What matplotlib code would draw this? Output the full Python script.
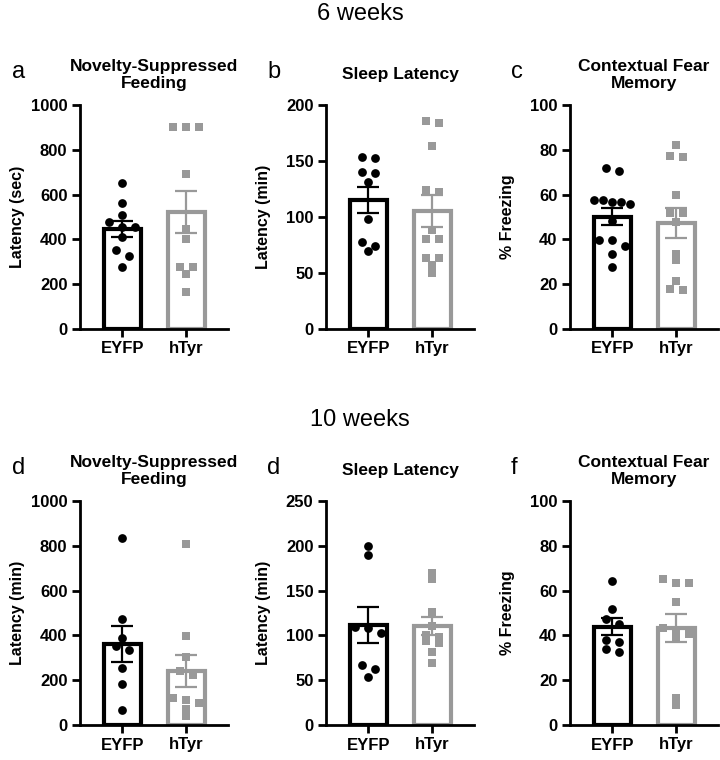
import numpy as np
import matplotlib
matplotlib.use('Agg')
import matplotlib.pyplot as plt

plt.rcParams['font.family'] = ['Liberation Sans', 'DejaVu Sans']

groups = ['EYFP', 'hTyr']

# 6 weeks
nsf6_eyfp = [654, 561, 509, 479, 457, 454, 412, 353, 328, 275]
nsf6_htyr = [900, 900, 900, 691, 448, 403, 277, 277, 246, 167]
sleep6_eyfp = [154, 153, 140, 139, 131, 98, 78, 74, 70]
sleep6_htyr = [186, 184, 163, 124, 122, 88, 80, 80, 63, 63, 57, 50]
fear6_eyfp = [72, 70.5, 57.8, 57.4, 56.5, 56.5, 55.6, 48, 39.7, 39.7, 37.2, 33.3, 27.5]
fear6_htyr = [82, 77.3, 76.6, 60, 52, 51.7, 47.6, 33.5, 30.8, 21.4, 18, 17.5]

# 10 weeks
nsf10_eyfp = [837, 471, 390, 353, 334, 255, 182, 68]
nsf10_htyr = [808, 399, 304, 240, 222, 122, 113, 96, 73, 39]
sleep10_eyfp = [200, 190, 109, 108, 103, 67, 62, 54]
sleep10_htyr = [170, 163, 126, 111, 101, 98, 93.5, 92, 81, 69]
fear10_eyfp = [64.4, 51.6, 47.5, 45.3, 37.8, 37.1, 34.1, 32.6]
fear10_htyr = [65.4, 63.5, 63.2, 55, 43.1, 41.6, 40.5, 39, 12.2, 8.8]

panels = [
    # letter, title, ylabel, ymax, ystep, eyfp, htyr
    ('a', 'Novelty-Suppressed\nFeeding', 'Latency (sec)', 1000, 200, nsf6_eyfp, nsf6_htyr),
    ('b', 'Sleep Latency', 'Latency (min)', 200, 50, sleep6_eyfp, sleep6_htyr),
    ('c', 'Contextual Fear\nMemory', '% Freezing', 100, 20, fear6_eyfp, fear6_htyr),
    ('d', 'Novelty-Suppressed\nFeeding', 'Latency (min)', 1000, 200, nsf10_eyfp, nsf10_htyr),
    ('d', 'Sleep Latency', 'Latency (min)', 250, 50, sleep10_eyfp, sleep10_htyr),
    ('f', 'Contextual Fear\nMemory', '% Freezing', 100, 20, fear10_eyfp, fear10_htyr),
]

black = '#000000'
gray = '#999999'
W, H = 720, 760

fig = plt.figure(figsize=(W / 100, H / 100), dpi=100)

lefts = [80, 326, 570]
letter_x = [12, 267, 511]
row_bottom = [329, 725]
ax_w, ax_h = 148, 224
xlim = (-0.66, 1.65)


def swarm_offsets(vals, ymax, px_per_x):
    # GraphPad-like rows: points close in y share a row, spread around center
    px_per_y = ax_h / ymax
    order = np.argsort(vals)[::-1]
    offs = np.zeros(len(vals))
    rows = []
    for i in order:
        if rows and (vals[rows[-1][0]] - vals[i]) * px_per_y < 6:
            rows[-1].append(i)
        else:
            rows.append([i])
    for r in rows:
        n = len(r)
        if n == 1:
            continue
        sp = min(13, 36 / (n - 1))
        for k, i in enumerate(r):
            offs[i] = (k - (n - 1) / 2) * sp / px_per_x
    return offs


for p, (letter, title, ylab, ymax, ystep, eyfp, htyr) in enumerate(panels):
    row, col = divmod(p, 3)
    ax = fig.add_axes([lefts[col] / W, 1 - row_bottom[row] / H, ax_w / W, ax_h / H])
    ax.set_xlim(*xlim)
    ax.set_ylim(0, ymax)
    px_per_x = ax_w / (xlim[1] - xlim[0])

    for xi, (vals, c, m, ms) in enumerate([(eyfp, black, 'o', 6.3), (htyr, gray, 's', 5.2)]):
        vals = np.array(vals, dtype=float)
        mean = vals.mean()
        sem = vals.std(ddof=1) / np.sqrt(len(vals))
        ax.bar(xi, mean, width=0.58, facecolor='white', edgecolor=c, linewidth=3, zorder=2)
        offs = swarm_offsets(vals, ymax, px_per_x)
        ax.plot(xi + offs, vals, linestyle='none', marker=m, markersize=ms,
                color=c, markeredgewidth=0, zorder=3)
        ax.errorbar(xi, mean, yerr=sem, color=c, linewidth=1.6, capsize=8,
                    capthick=1.6, zorder=4)

    ax.set_xticks([0, 1])
    ax.set_xticklabels(groups, fontsize=12, fontweight='bold')
    ax.set_yticks(np.arange(0, ymax + 1, ystep))
    ax.set_yticklabels([str(int(v)) for v in np.arange(0, ymax + 1, ystep)],
                       fontsize=12, fontweight='bold')
    ax.set_ylabel(ylab, fontsize=11.5, fontweight='bold')
    ax.yaxis.set_label_coords(-0.37, 0.5)
    for s in ['top', 'right']:
        ax.spines[s].set_visible(False)
    for s in ['left', 'bottom']:
        ax.spines[s].set_linewidth(2)
    ax.tick_params(width=2, length=6, pad=3)

    ax.text(0.5, 1.135, title, transform=ax.transAxes, ha='center', va='center',
            fontsize=12.5, fontweight='bold',
            family=['Liberation Sans Narrow', 'Liberation Sans'], linespacing=1.2)
    top_px = row_bottom[row] - ax_h
    fig.text(letter_x[col] / W, 1 - (top_px - 33) / H, letter, ha='left', va='center',
             fontsize=17)

fig.text(0.5, 1 - 14 / H, '6 weeks', ha='center', va='center', fontsize=17)
fig.text(0.5, 1 - 420 / H, '10 weeks', ha='center', va='center', fontsize=17)

plt.savefig('out.png', dpi=100)
